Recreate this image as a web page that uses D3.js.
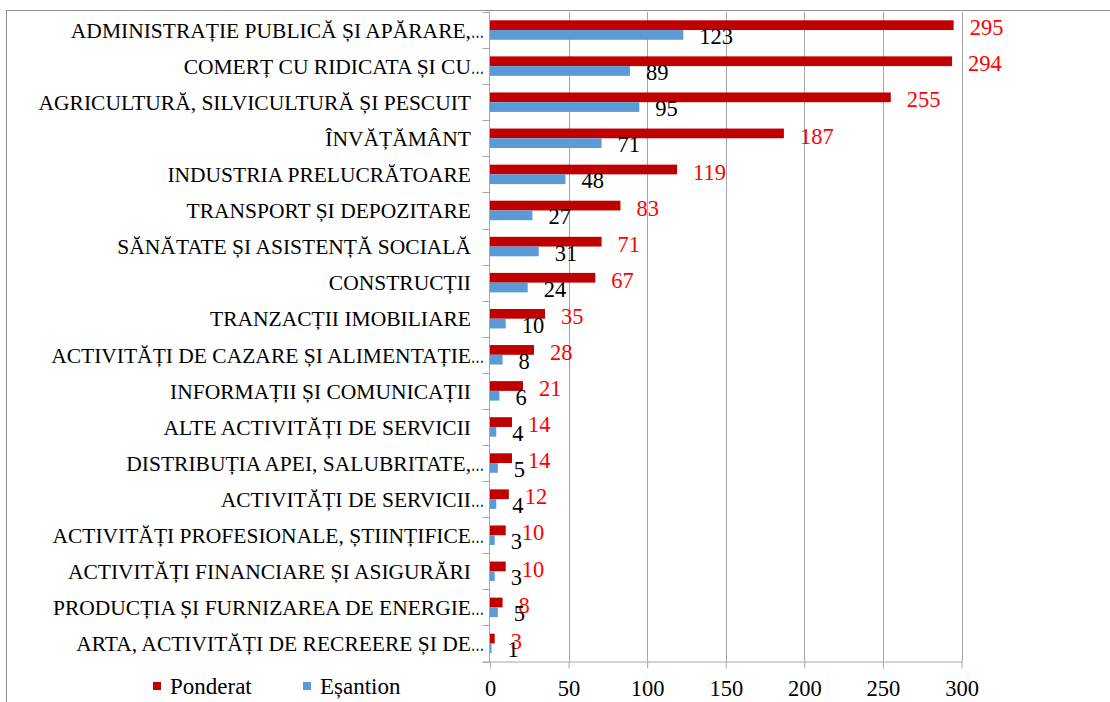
<!DOCTYPE html>
<html>
<head>
<meta charset="utf-8">
<script src="https://cdn.jsdelivr.net/npm/d3@7"></script>
<style>
    body { margin: 0; background: #fff; }
    svg text { font-family: "Liberation Serif", "Times New Roman", serif; }
</style>
</head>
<body>
<svg id="chart" width="1110" height="702"></svg>
<script>
var categories = [
    "ADMINISTRAȚIE PUBLICĂ ȘI APĂRARE,…",
    "COMERȚ CU RIDICATA ȘI CU…",
    "AGRICULTURĂ, SILVICULTURĂ ȘI PESCUIT",
    "ÎNVĂȚĂMÂNT",
    "INDUSTRIA PRELUCRĂTOARE",
    "TRANSPORT ȘI DEPOZITARE",
    "SĂNĂTATE ȘI ASISTENȚĂ SOCIALĂ",
    "CONSTRUCȚII",
    "TRANZACȚII IMOBILIARE",
    "ACTIVITĂȚI DE CAZARE ȘI ALIMENTAȚIE…",
    "INFORMAȚII ȘI COMUNICAȚII",
    "ALTE ACTIVITĂȚI DE SERVICII",
    "DISTRIBUȚIA APEI, SALUBRITATE,…",
    "ACTIVITĂȚI DE SERVICII…",
    "ACTIVITĂȚI PROFESIONALE, ȘTIINȚIFICE…",
    "ACTIVITĂȚI FINANCIARE ȘI ASIGURĂRI",
    "PRODUCȚIA ȘI FURNIZAREA DE ENERGIE…",
    "ARTA, ACTIVITĂȚI DE RECREERE ȘI DE…"
];
var ponderat = [295, 294, 255, 187, 119, 83, 71, 67, 35, 28, 21, 14, 14, 12, 10, 10, 8, 3];
var esantion = [123, 89, 95, 71, 48, 27, 31, 24, 10, 8, 6, 4, 5, 4, 3, 3, 5, 1];
var xTicks = [0, 50, 100, 150, 200, 250, 300];
var seriesNames = ["Ponderat", "Eșantion"];

var cfg = {
    left: 490,
    right: 961.5,
    top: 12,
    bottom: 661.5,
    labelEnd: 471,
    red: "#c00000",
    blue: "#5b9bd5",
    grid: "#a6a6a6",
    serif: "'Liberation Serif', 'Times New Roman', serif"
};

var svg = d3.select("#chart");

// chart frame (right and bottom edges fall outside the picture)
svg.append("rect")
    .attr("x", 6.5).attr("y", 10.5)
    .attr("width", 1200).attr("height", 800)
    .attr("fill", "none")
    .attr("stroke", "#8c8c8c");

var x = d3.scaleLinear().domain([0, 300]).range([cfg.left, cfg.right]);
var y = d3.scaleBand().domain(categories).range([cfg.top, cfg.bottom])
    .paddingInner(0.46).paddingOuter(0.23);
var sub = d3.scaleBand().domain(seriesNames).range([0, y.bandwidth()]);

// vertical gridlines
svg.append("g").selectAll("line")
    .data(xTicks.slice(1))
    .enter()
    .append("line")
    .attr("x1", function (d) { return Math.round(x(d)) + 0.5; })
    .attr("x2", function (d) { return Math.round(x(d)) + 0.5; })
    .attr("y1", cfg.top)
    .attr("y2", cfg.bottom)
    .attr("stroke", cfg.grid);

// bars
var rows = categories.map(function (c, i) {
    return { cat: c, p: ponderat[i], e: esantion[i] };
});
var groups = svg.append("g").selectAll("g")
    .data(rows)
    .enter()
    .append("g")
    .attr("transform", function (d) { return "translate(0," + y(d.cat) + ")"; });

groups.append("rect")
    .attr("x", x(0))
    .attr("y", sub("Ponderat"))
    .attr("width", function (d) { return x(d.p) - x(0); })
    .attr("height", sub.bandwidth())
    .attr("fill", cfg.red);

groups.append("rect")
    .attr("x", x(0))
    .attr("y", sub("Eșantion"))
    .attr("width", function (d) { return x(d.e) - x(0); })
    .attr("height", sub.bandwidth())
    .attr("fill", cfg.blue);

// category axis: line plus ticks between the bands
var yG = svg.append("g").attr("transform", "translate(" + (cfg.left - 0.5) + ",0)");
yG.append("line").attr("x1", 0).attr("x2", 0).attr("y1", cfg.top).attr("y2", cfg.bottom + 0.5)
    .attr("stroke", cfg.grid);
yG.selectAll("line.tk")
    .data(d3.range(categories.length + 1))
    .enter()
    .append("line")
    .attr("class", "tk")
    .attr("x1", -7).attr("x2", 0)
    .attr("y1", function (d) { return Math.round(cfg.top + d * y.step()) + 0.5; })
    .attr("y2", function (d) { return Math.round(cfg.top + d * y.step()) + 0.5; })
    .attr("stroke", cfg.grid);

var xAxis = d3.axisBottom(x).tickValues(xTicks).tickSize(7).tickPadding(12);
var xG = svg.append("g").attr("transform", "translate(0," + cfg.bottom + ")").call(xAxis);
xG.attr("font-family", null);
xG.select(".domain").attr("stroke", cfg.grid).attr("d", "M" + (cfg.left - 7) + ",0.5H" + (cfg.right + 0.5));
xG.selectAll(".tick line").attr("stroke", cfg.grid);
xG.selectAll(".tick text")
    .attr("fill", "#000")
    .style("font-size", "22.5px")
    .style("font-family", cfg.serif);

// category labels: text right-aligned, a narrow "…" hangs past the edge for cut labels
var catG = svg.append("g").selectAll("g")
    .data(categories)
    .enter()
    .append("g")
    .attr("transform", function (d) { return "translate(0," + (y(d) + y.bandwidth() / 2) + ")"; });
catG.append("text")
    .attr("x", cfg.labelEnd)
    .attr("dy", "0.36em")
    .attr("text-anchor", "end")
    .style("font-size", "21.5px")
    .style("font-family", cfg.serif)
    .attr("fill", "#000")
    .text(function (d) { return d.replace(/…$/, ""); });
catG.filter(function (d) { return d.slice(-1) === "…"; })
    .append("text")
    .attr("x", cfg.labelEnd)
    .attr("dy", "0.36em")
    .attr("fill", "#000")
    .style("font-size", "21.5px")
    .style("font-family", cfg.serif)
    .append("tspan")
    .attr("textLength", 13)
    .attr("lengthAdjust", "spacingAndGlyphs")
    .text("…");

// value labels
groups.append("text")
    .attr("x", function (d) { return x(d.p) + 16; })
    .attr("y", sub("Ponderat") + sub.bandwidth() / 2 + 2.5)
    .attr("dy", "0.34em")
    .attr("fill", "#ff0000")
    .style("font-size", "22.5px")
    .style("font-family", cfg.serif)
    .text(function (d) { return d.p; });

groups.append("text")
    .attr("x", function (d) { return x(d.e) + 16; })
    .attr("y", sub("Eșantion") + sub.bandwidth() / 2 + 1.5)
    .attr("dy", "0.34em")
    .attr("fill", "#000")
    .style("font-size", "22.5px")
    .style("font-family", cfg.serif)
    .text(function (d) { return d.e; });

// legend
var legend = svg.append("g").selectAll("g")
    .data(seriesNames)
    .enter()
    .append("g")
    .attr("transform", function (d, i) { return "translate(" + (153 + i * 150) + ",682)"; });
legend.append("rect")
    .attr("width", 8).attr("height", 8)
    .attr("fill", function (d, i) { return i === 0 ? cfg.red : cfg.blue; });
legend.append("text")
    .attr("x", 17)
    .attr("y", 4)
    .attr("dy", "0.34em")
    .style("font-size", "23px")
    .style("font-family", cfg.serif)
    .attr("fill", "#000")
    .text(function (d) { return d; });
</script>
</body>
</html>
